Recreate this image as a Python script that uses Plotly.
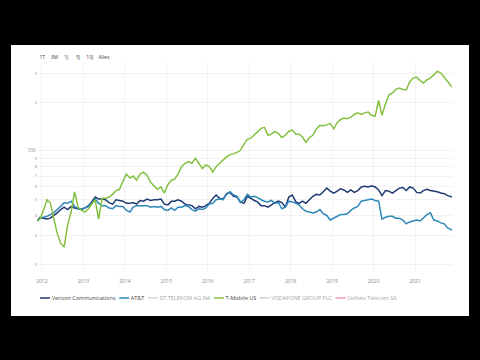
import plotly.graph_objects as go

# ---------------- data ----------------
months = [f"{y}-{m:02d}-15" for y in range(2011, 2022) for m in range(1, 13)
          if "2011-12" <= f"{y}-{m:02d}" <= "2021-10"]
dates = ["2011-11-22"] + months + ["2021-11-22"]

verizon = [37, 39,
    38.5, 38, 38.5, 40, 41.5, 43.5, 45, 43.5, 45.5, 44.5, 44, 43.5,
    44.5, 46, 48.5, 52, 50.5, 50.5, 50, 48, 47, 50, 49.5, 49,
    47.5, 47.5, 48, 47, 49.5, 49, 50.5, 49.5, 50, 50, 50.5, 47,
    46.5, 49, 49, 50, 49, 47, 46.5, 46, 44, 45.5, 45, 46,
    47.5, 51, 53.5, 51, 50.5, 54.5, 55.5, 52.5, 52, 48.5, 47.5, 52.5,
    51, 49.5, 48.5, 46, 46, 45, 46.5, 48, 49, 48, 45, 52,
    53.5, 48.5, 47.5, 49, 47.5, 50, 52.5, 54, 53.5, 56, 59, 56.5,
    55, 56.5, 58.5, 57.5, 55.5, 57.5, 55.5, 57, 60, 60.5, 60, 61,
    60, 57.5, 53, 57, 56.5, 55, 57, 59, 59.5, 57, 60, 59,
    55.5, 55, 57, 58, 57, 56.5, 56, 55, 54.5, 53,
    52]

att = [37, 38.5,
    39, 39.5, 40.5, 41.5, 43.5, 45.5, 48, 47.5, 49, 45.5, 44, 44,
    44.5, 45.5, 47.5, 50.5, 47.5, 46, 46, 44.5, 44, 46, 45.5, 45.5,
    43, 42, 45, 46, 46, 46, 46, 45, 45.5, 45, 45.5, 43.5,
    43, 44.5, 43, 45, 45, 46, 45.5, 43.5, 42.5, 44, 43.5, 44.5,
    47, 47.5, 50, 50.5, 50, 54, 56, 53.5, 52.5, 48, 50, 54,
    52, 52.5, 51.5, 50, 49, 48.5, 49.5, 47.5, 48, 44, 45, 49,
    48.5, 47.5, 46.5, 44, 42.5, 42, 41.5, 42, 43.5, 41, 40, 37.5,
    38.5, 39.5, 40.5, 40.5, 41, 43, 44.5, 45.5, 49, 49.5, 50, 50.5,
    49.5, 49, 38, 39, 39.5, 39.5, 38.5, 38.5, 37.5, 35.5, 36.5, 37,
    37.5, 37, 38.5, 40.5, 41.5, 37.5, 37, 36, 35.5, 33.5,
    32.5]

tmobile = [37, 38,
    43, 50, 48, 38, 31, 27, 25.5, 35, 42, 56, 45, 43,
    42, 44, 47, 50, 38, 51, 51, 52, 54, 57, 58, 65,
    72, 68, 70, 66, 72, 74, 71, 64, 61, 58, 60, 55,
    62, 66, 67, 72, 80, 84, 86, 84, 90, 84, 78, 82,
    80, 74, 80, 84, 88, 92, 95, 96, 98, 101, 110, 118,
    120, 126, 132, 138, 140, 125, 127, 132, 128, 121, 125, 132,
    135, 127, 127, 122, 113, 121, 125, 137, 144, 143, 145, 148,
    137, 150, 156, 160, 158, 162, 168, 172, 168, 172, 174, 166,
    164, 205, 166, 195, 222, 228, 240, 245, 240, 238, 268, 282,
    286, 272, 263, 275, 282, 295, 311, 303, 285, 268,
    248]

# hidden (legend only) series: only their common start value is known
start_date = [dates[0]]
start_value = [37]

names = ["Verizon Communications", "AT&T", "DT.TELEKOM AG NA", "T-Mobile US",
         "VODAFONE GROUP PLC", "Cellnex Telecom SA"]
colors = ["#1f3a70", "#2d87b8", "#a8a8a8", "#84c041", "#a8a8a8", "#e0457b"]

range_labels = ["1T", "3M", "1J", "5J", "10J", "Alles"]
year_ticks_format = "%Y"

# ---------------- figure (built at 3x, shown at 1/3) ----------------
fig = go.Figure()
series = {0: verizon, 1: att, 3: tmobile}
for i, name in enumerate(names):
    if i in series:
        fig.add_trace(go.Scatter(x=dates, y=series[i], name=name, mode="lines",
                                 line=dict(color=colors[i], width=4.5)))
    else:
        fig.add_trace(go.Scatter(x=start_date, y=start_value, name=name, mode="lines",
                                 line=dict(color=colors[i], width=4.5),
                                 visible="legendonly"))

buttons = [
    dict(count=1, label=range_labels[0], step="day", stepmode="backward"),
    dict(count=3, label=range_labels[1], step="month", stepmode="backward"),
    dict(count=1, label=range_labels[2], step="year", stepmode="backward"),
    dict(count=5, label=range_labels[3], step="year", stepmode="backward"),
    dict(count=10, label=range_labels[4], step="year", stepmode="backward"),
    dict(label=range_labels[5], step="all"),
]

fig.update_layout(
    width=1440, height=1080, autosize=False,
    margin=dict(l=112, r=84, t=186, b=270),
    paper_bgcolor="black", plot_bgcolor="white",
    font=dict(family="Open Sans, sans-serif", color="#444"),
    showlegend=True,
    legend=dict(orientation="h", xref="container", yref="container",
                x=115 / 1440, y=1 - 894 / 1080, xanchor="left", yanchor="middle",
                font=dict(size=16.5, color="#444"), bgcolor="rgba(0,0,0,0)"),
    xaxis=dict(type="date", range=[dates[0], dates[-1]],
               dtick="M12", tick0="2012-01-01", tickformat=year_ticks_format,
               showgrid=True, gridcolor="#ececec", gridwidth=2,
               zeroline=False, showline=False, ticks="",
               tickfont=dict(size=15, color="#888"), ticklabelstandoff=22,
               rangeselector=dict(buttons=buttons, x=0, y=1, xanchor="left", yanchor="bottom",
                                  font=dict(size=15, color="#444"),
                                  bgcolor="rgba(0,0,0,0)", activecolor="rgba(0,0,0,0)")),
    yaxis=dict(type="log", range=[1.2654, 2.5494], dtick="D1",
               showgrid=True, gridcolor="#ececec", gridwidth=2,
               zeroline=False, showline=False, ticks="",
               tickfont=dict(size=15, color="#888")),
    shapes=[dict(type="rect", xref="paper", yref="paper",
                 x0=-0.0635, x1=1.041, y0=-0.2212, y1=1.0817,
                 fillcolor="white", line=dict(width=0), layer="below")],
)

post = ("var d=document.getElementById('{plot_id}');"
        "document.documentElement.style.overflow='hidden';"
        "document.body.style.margin='0';document.body.style.overflow='hidden';"
        "document.body.style.background='black';"
        "d.style.transformOrigin='0 0';d.style.transform='scale(0.333333)';")

fig.write_html("out.html", config=dict(displayModeBar=False, responsive=False),
               post_script=post)
